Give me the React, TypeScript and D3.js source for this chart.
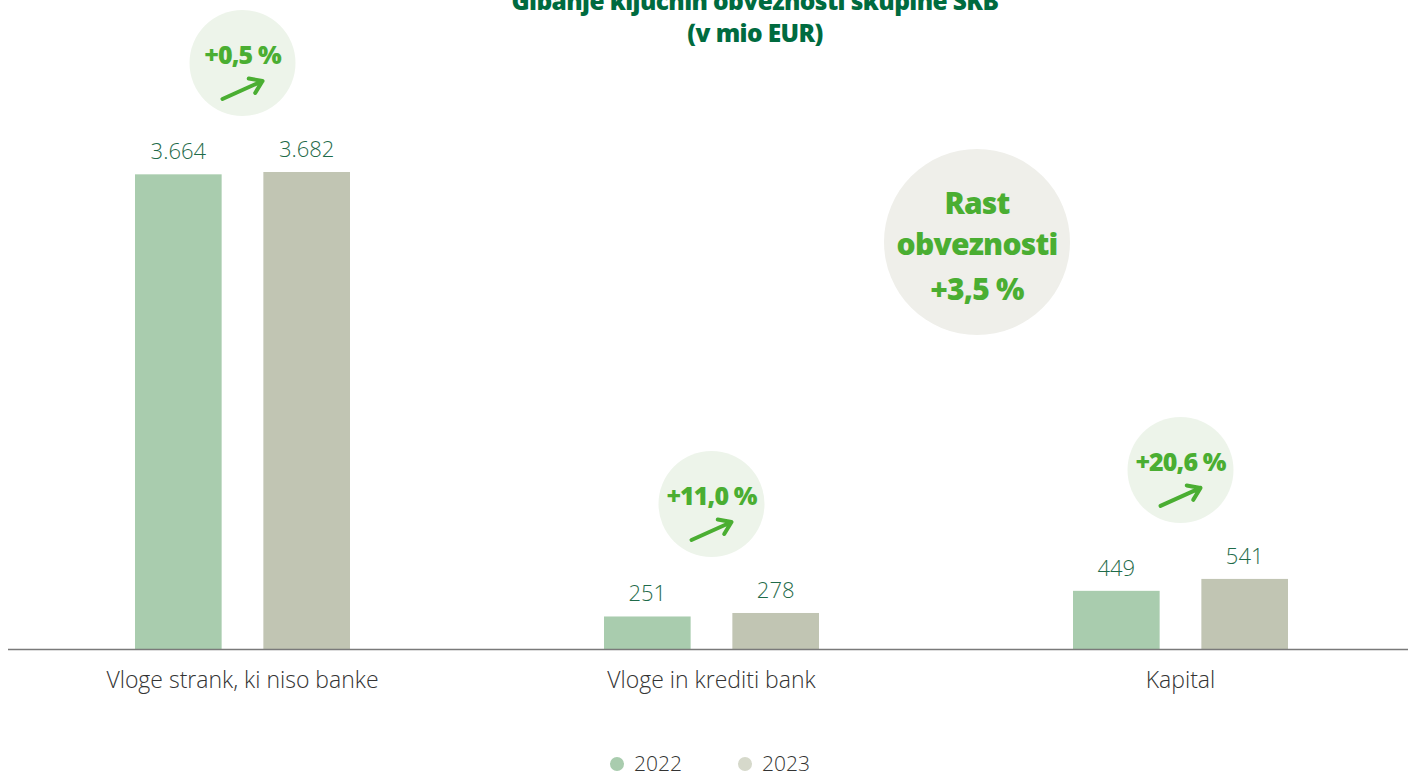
import React from "react";
import * as d3 from "d3";

const categories = ["Vloge strank, ki niso banke", "Vloge in krediti bank", "Kapital"];
const years = ["2022", "2023"];
const values2022 = [3664, 251, 449];
const values2023 = [3682, 278, 541];
const valueLabels2022 = ["3.664", "251", "449"];
const valueLabels2023 = ["3.682", "278", "541"];
const changeLabels = ["+0,5 %", "+11,0 %", "+20,6 %"];
const totalLines = ["Rast", "obveznosti", "+3,5 %"];
const titleLines = ["Gibanje ključnih obveznosti skupine SKB", "(v mio EUR)"];

const W = 1408;
const H = 773;
const baseY = 649;
const colors = ["#a9ccae", "#c1c5b3"];
const legendColors = ["#a9ccae", "#d6d9cb"];
const green = "#4aae32";
const darkGreen = "#006b3f";
const valueColor = "#1f6b4a";
const textColor = "#333333";
const lightFont = "'Open Sans', 'Noto Sans', sans-serif";

export default function App() {
  const x0 = d3.scaleBand<string>().domain(categories).range([8, 1415]).padding(0);
  const x1 = d3.scaleBand<string>().domain(years).range([127, 342]).paddingInner(0.325).paddingOuter(0);
  const y = d3.scaleLinear().domain([0, 3682]).range([baseY, 172]);
  const series = [values2022, values2023];
  const seriesLabels = [valueLabels2022, valueLabels2023];

  const bubbleR = 53;
  const arrow = (cx: number, cy: number) => {
    const tx = cx + 20, ty = cy + 18;
    const sx = cx - 20, sy = cy + 36;
    const ang = Math.atan2(ty - sy, tx - sx);
    const L = 14, a = 0.6;
    const h1x = tx - L * Math.cos(ang - a), h1y = ty - L * Math.sin(ang - a);
    const h2x = tx - L * Math.cos(ang + a), h2y = ty - L * Math.sin(ang + a);
    return `M${sx},${sy}L${tx},${ty}M${h1x},${h1y}L${tx},${ty}L${h2x},${h2y}`;
  };

  return (
    <svg width={W} height={H} style={{ position: "absolute", left: 0, top: 0, background: "#fff" }}>
      {/* title */}
      <g fontFamily="'Open Sans', sans-serif" fontWeight={800} fill={darkGreen} textAnchor="middle" fontSize={24.5} letterSpacing={-0.6}>
        <text x={755} y={10}>{titleLines[0]}</text>
        <text x={755} y={42}>{titleLines[1]}</text>
      </g>

      {/* bars */}
      {categories.map((c, i) => (
        <g key={c} transform={`translate(${x0(c)},0)`}>
          {years.map((yr, j) => {
            const v = series[j][i];
            const bx = x1(yr)!;
            return (
              <g key={yr}>
                <rect x={bx} y={y(v)} width={x1.bandwidth()} height={baseY - y(v)} fill={colors[j]} />
                <text x={bx + x1.bandwidth() / 2} y={y(v) - 15} textAnchor="middle" fontFamily={lightFont} fontWeight={300} fontSize={22} fill={valueColor}>
                  {seriesLabels[j][i]}
                </text>
              </g>
            );
          })}
          <text x={x0.bandwidth() / 2} y={688} textAnchor="middle" fontFamily={lightFont} fontWeight={300} fontSize={23} fill={textColor}>
            {c}
          </text>
        </g>
      ))}

      {/* axis line */}
      <line x1={8} x2={W} y1={baseY + 0.5} y2={baseY + 0.5} stroke="#7a7a7a" strokeWidth={1.5} />

      {/* change bubbles */}
      {categories.map((c, i) => {
        const cx = x0(c)! + x0.bandwidth() / 2;
        const top = y(Math.max(values2022[i], values2023[i]));
        const cy = top - 109;
        return (
          <g key={"b" + c}>
            <circle cx={cx} cy={cy} r={bubbleR} fill="#edf4ea" />
            <text x={cx} y={cy + 1} textAnchor="middle" fontFamily="'Open Sans', sans-serif" fontWeight={800} fontSize={25} letterSpacing={-0.9} fill={green}>
              {changeLabels[i]}
            </text>
            <path d={arrow(cx, cy)} fill="none" stroke={green} strokeWidth={4} strokeLinecap="round" strokeLinejoin="round" />
          </g>
        );
      })}

      {/* total bubble */}
      <g>
        <circle cx={977} cy={242} r={93} fill="#efefea" />
        {totalLines.map((t, k) => (
          <text key={t} x={977} y={214 + k * 41 + (k === 2 ? 4 : 0)} textAnchor="middle" fontFamily="'Open Sans', sans-serif" fontWeight={800} fontSize={30} letterSpacing={-0.8} fill={green}>
            {t}
          </text>
        ))}
      </g>

      {/* legend */}
      {years.map((yr, j) => (
        <g key={"l" + yr} transform={`translate(${617 + j * 128},764)`}>
          <circle r={7} fill={legendColors[j]} />
          <text x={17} y={7} fontFamily={lightFont} fontWeight={300} fontSize={21} fill={textColor}>
            {yr}
          </text>
        </g>
      ))}
    </svg>
  );
}
